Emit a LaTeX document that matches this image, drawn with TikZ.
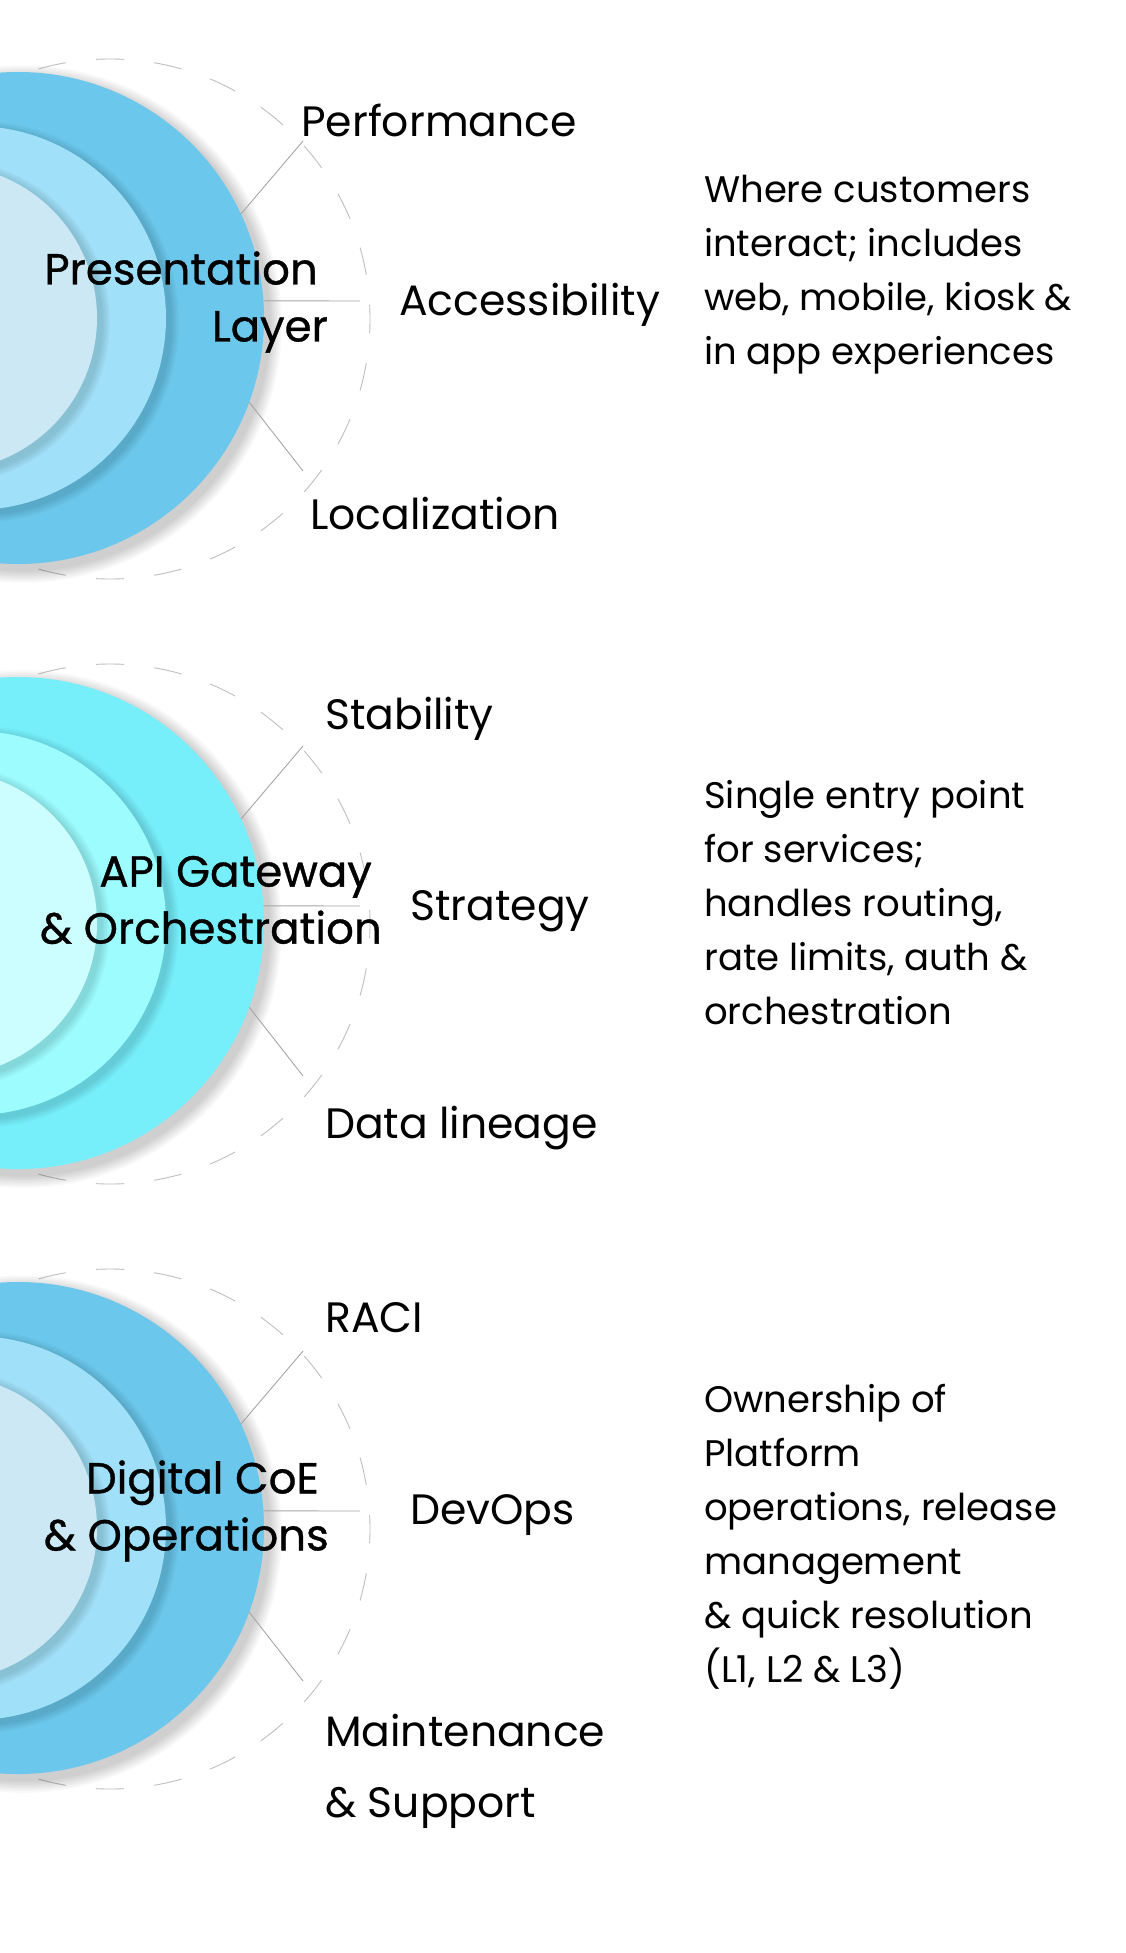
\documentclass[tikz,border=0pt]{standalone}
\usepackage{fontspec}
\setmainfont{Poppins}
\newfontfamily\headfont{Poppins}[FakeBold=0.8]
\usepackage{tikz}
\usetikzlibrary{positioning}
\usepackage{xcolor}
\definecolor{skyA}{HTML}{6BC7EB}
\definecolor{skyB}{HTML}{A0E0F8}
\definecolor{skyC}{HTML}{CBE8F4}
\definecolor{aquaA}{HTML}{76EFFB}
\definecolor{aquaB}{HTML}{9CFCFE}
\definecolor{aquaC}{HTML}{CCFDFF}

\tikzset{
  ring/.style={circle, inner sep=0pt, outer sep=0pt, draw=none},
  guide/.style={draw=black!25, line width=0.9pt, dash pattern=on 28pt off 30.35pt, dash phase=14pt},
  link/.style={draw=black!35, line width=0.9pt},
  facet/.style={anchor=west, inner sep=0pt, align=left, font=\fontsize{42.5}{71}\selectfont},
  layer/.style={anchor=east, inner sep=0pt, align=right, font=\headfont\fontsize{43.5}{57}\selectfont},
  blurb/.style={anchor=north west, inner sep=0pt, align=left, font=\fontsize{37}{54}\selectfont},
}

\begin{document}
\begin{tikzpicture}[x=1pt, y=-1pt]
  \useasboundingbox (0,0) rectangle (1125,1953);
  \fill[white] (0,0) rectangle (1125,1953);
  \clip (0,0) rectangle (1125,1953);

  % three rings, same geometry, shifted down
  \foreach \gy/\ca/\cb/\cc/\g in {318/skyA/skyB/skyC/1, 923/aquaA/aquaB/aquaC/2, 1528/skyA/skyB/skyC/3} {
    \draw[guide] (110,\gy+1) circle[radius=260pt];

    \foreach \k in {1,...,8}
      \fill[black, opacity=0.025] (23,\gy+6) circle[radius={246pt+\k*1.6pt}];
    \node[ring, fill=\ca, minimum size=492pt] (outer\g) at (18,\gy) {};

    \foreach \k in {1,...,6}
      \fill[black, opacity=0.025] (-22,\gy+4) circle[radius={192pt+\k*1.5pt}];
    \node[ring, fill=\cb, minimum size=384pt] (middle\g) at (-26,\gy) {};

    \foreach \k in {1,...,6}
      \fill[black, opacity=0.025] (-52,\gy+4) circle[radius={153pt+\k*1.5pt}];
    \node[ring, fill=\cc, minimum size=306pt] (inner\g) at (-56,\gy) {};

    \coordinate (tipA\g) at (303,\gy-177);
    \coordinate (tipB\g) at (360,\gy-17);
    \coordinate (tipC\g) at (303,\gy+153);
    \draw[link] (outer\g.25) -- (tipA\g);
    \draw[link] (outer\g.4) -- (tipB\g);
    \draw[link] (outer\g.-20) -- (tipC\g);
  }

  % presentation
  \node[layer] (title1) at (328,302) {Presentation\hspace*{10pt}\\Layer};
  \node[facet] (perf) at (301,120) {Performance};
  \node[facet] (access) at (399,305) {Accessibility};
  \node[facet] (local) at (310,514) {Localization};
  \node[blurb] (note1) at (704,175) {Where customers\\interact; includes\\web, mobile, kiosk \&\\in app experiences};

  % gateway
  \node[layer] (title2) at (382,900) {API Gateway\hspace*{10pt}\\\& Orchestration};
  \node[facet] (stab) at (325,719) {Stability};
  \node[facet] (strat) at (410,911) {Strategy};
  \node[facet] (lineage) at (325,1128) {Data lineage};
  \node[blurb] (note2) at (704,780) {Single entry point\\for services;\\handles routing,\\rate limits, auth \&\\orchestration};

  % coe
  \node[layer] (title3) at (329,1511) {Digital CoE\hspace*{10pt}\\\& Operations};
  \node[facet] (raci) at (325,1318) {RACI};
  \node[facet] (devops) at (410,1515) {DevOps};
  \node[facet] (maint) at (325,1771) {Maintenance\\\& Support};
  \node[blurb] (note3) at (704,1384) {Ownership of\\Platform\\operations, release\\management\\\& quick resolution\\(L1, L2 \& L3)};
\end{tikzpicture}
\end{document}
